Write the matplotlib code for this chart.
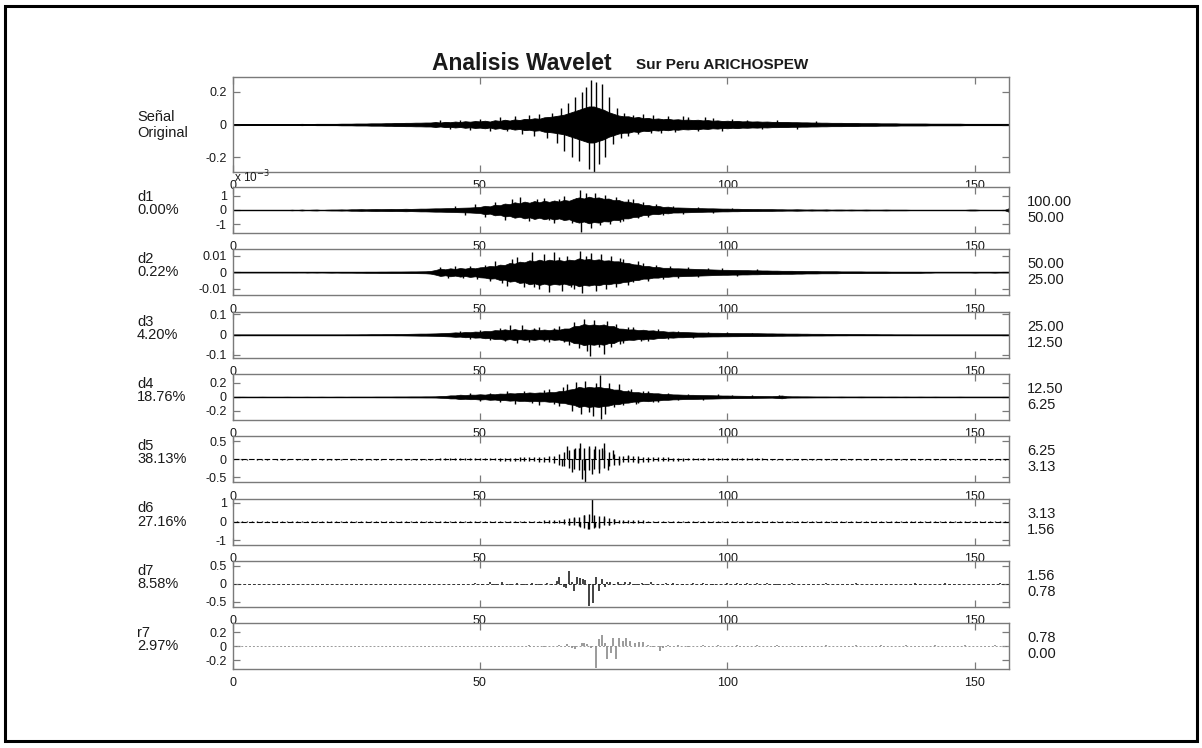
import numpy as np
import matplotlib
matplotlib.use("Agg")
import matplotlib.pyplot as plt
from matplotlib.patches import Rectangle

plt.rcParams['font.family'] = ['Liberation Sans', 'DejaVu Sans']

W, H = 1202, 748

# ---- data ----
# envelopes per second, t = 0..157 s
# Señal original, units of 0.01
env_sig = [0.2, 0.2, 0.2, 0.2, 0.3, 0.2, 0.2, 0.3, 0.2, 0.3,
           0.3, 0.3, 0.3, 0.3, 0.4, 0.3, 0.3, 0.4, 0.4, 0.4,
           0.4, 0.4, 0.5, 0.5, 0.5, 0.6, 0.6, 0.6, 0.7, 0.7,
           0.7, 0.8, 0.8, 0.9, 0.9, 1.0, 1.0, 1.1, 1.1, 1.2,
           1.2, 1.5, 1.2, 1.6, 1.4, 1.8, 1.5, 2.0, 1.7, 2.1,
           1.9, 2.3, 1.8, 2.6, 2.2, 2.9, 2.4, 3.1, 2.7, 3.4,
           3.2, 3.8, 3.5, 4.4, 4.6, 5.0, 5.5, 6.0, 7.0, 8.0,
           9.0, 10, 11, 11, 10, 9.0, 7.5, 6.5, 5.5, 5.0,
           5.0, 4.2, 4.6, 3.8, 4.0, 3.4, 3.7, 3.2, 3.5, 3.0,
           3.2, 2.8, 3.0, 2.7, 2.9, 2.5, 2.7, 2.3, 2.5, 2.1,
           2.3, 2.0, 2.2, 1.9, 2.0, 1.8, 1.9, 1.7, 1.8, 1.6,
           1.6, 1.5, 1.5, 1.4, 1.4, 1.3, 1.3, 1.2, 1.2, 1.1,
           1.1, 1.0, 1.0, 1.0, 0.9, 0.9, 0.9, 0.8, 0.8, 0.8,
           0.8, 0.7, 0.7, 0.7, 0.7, 0.6, 0.6, 0.6, 0.6, 0.6,
           0.6, 0.5, 0.5, 0.5, 0.5, 0.5, 0.5, 0.5, 0.4, 0.4,
           0.4, 0.4, 0.4, 0.4, 0.4, 0.4, 0.4, 0.4]
# (time s, value)
spk_sig = [(42, .025), (44, -.03), (46, .03), (48, -.035), (50, .035), (52, -.04),
           (54, .045), (55.5, -.04), (57, .05), (58.5, -.055), (60, .06), (61, -.07),
           (62, .065), (63.5, -.08), (64.5, .07), (65.5, -.11), (66.3, .10), (67, -.16),
           (67.8, .13), (68.5, -.20), (69.2, .17), (70, -.22), (70.7, .20), (71.4, .23),
           (72, -.27), (72.5, .27), (73, -.29), (73.5, .26), (74.1, -.24), (74.7, .25),
           (75.3, -.20), (76, .17), (76.8, -.12), (77.6, .10), (78.4, -.08), (79.2, .07),
           (80, -.07), (81, .06), (82, -.06), (83, .065), (84.5, -.05), (85, .055),
           (86.5, -.05), (88, .05), (89.5, -.045), (91, .05), (92, .045), (94, -.04),
           (95.5, .045), (97, .04), (99, -.04), (101, .035), (104, .03), (107, -.03),
           (110, .03), (114, -.025), (118, .02)]

# d1, units of 1e-3
env_d1 = [0, 0, 0, 0, 0, 0, 0, 0, 0, 0,
          0, 0, 0.02, 0, 0.03, 0, 0.02, 0.03, 0, 0.02,
          0.03, 0.03, 0.04, 0.03, 0.05, 0.05, 0.06, 0.05, 0.06, 0.07,
          0.06, 0.07, 0.08, 0.07, 0.08, 0.09, 0.08, 0.09, 0.10, 0.10,
          0.11, 0.12, 0.12, 0.13, 0.14, 0.15, 0.16, 0.17, 0.18, 0.20,
          0.22, 0.30, 0.26, 0.38, 0.34, 0.46, 0.42, 0.55, 0.48, 0.60,
          0.52, 0.64, 0.55, 0.66, 0.58, 0.68, 0.60, 0.72, 0.66, 0.80,
          0.90, 0.82, 0.95, 0.86, 0.90, 0.80, 0.82, 0.70, 0.72, 0.60,
          0.60, 0.50, 0.48, 0.36, 0.36, 0.28, 0.30, 0.22, 0.24, 0.18,
          0.18, 0.17, 0.16, 0.15, 0.14, 0.13, 0.12, 0.12, 0.11, 0.10,
          0.10, 0.09, 0.09, 0.08, 0.08, 0.07, 0.07, 0.06, 0.06, 0.06,
          0.05, 0.05, 0.04, 0.04, 0.05, 0.04, 0.03, 0.04, 0.03, 0.03,
          0.04, 0.02, 0.03, 0.03, 0.02, 0.03, 0.02, 0.02, 0.03, 0.02,
          0.02, 0.02, 0.03, 0.02, 0.02, 0.02, 0.02, 0.01, 0.01, 0.01,
          0.01, 0.01, 0.01, 0.01, 0.01, 0.01, 0.01, 0.01, 0.01, 0.03,
          0.03, 0.01, 0.01, 0.01, 0.01, 0.01, 0.01, 0.15]
spk_d1 = [(45, 0.3), (47, -0.35), (49, 0.4), (51, -0.5), (53, 0.6), (55, -0.7),
          (56.5, 0.75), (58, 0.9), (60, -0.8), (61.5, 0.75), (63, 0.85), (64, -0.7),
          (65, -0.9), (66, 0.8), (67, 1.0), (68.5, -0.9), (69.5, 0.85), (70.2, 1.45),
          (70.5, -1.6), (71.5, 1.2), (72.4, -1.25), (73.3, 1.2), (74.2, -1.1), (75.2, 1.05),
          (76.2, -1.0), (77.5, 0.95), (78.3, -0.85), (79, -0.8), (80, 0.8), (81, 0.75),
          (82, -0.6), (83, 0.55), (84, -0.5), (85.5, 0.4), (87, -0.35), (89, 0.3),
          (91, -0.25), (94, 0.2), (97, -0.18), (101, 0.15)]

# d2, units of 1e-3
env_d2 = [0, 0, 0, 0, 0, 0, 0, 0, 0, 0,
          0.1, 0, 0.1, 0.1, 0, 0.15, 0.1, 0.15, 0.1, 0.15,
          0.2, 0.15, 0.2, 0.2, 0.2, 0.25, 0.25, 0.3, 0.3, 0.3,
          0.35, 0.35, 0.4, 0.4, 0.4, 0.45, 0.5, 0.5, 0.55, 0.6,
          0.8, 1.4, 2.2, 1.8, 2.4, 2.0, 2.6, 2.2, 2.8, 2.4,
          3.0, 3.2, 3.8, 3.6, 4.6, 4.4, 5.6, 5.2, 6.4, 6.0,
          7.2, 6.6, 7.6, 6.8, 7.6, 7.0, 7.4, 6.8, 7.6, 7.2,
          8.4, 7.6, 8.0, 7.4, 7.8, 7.0, 7.2, 6.6, 6.6, 5.8,
          5.6, 4.8, 4.6, 3.8, 3.8, 3.2, 3.2, 2.7, 2.7, 2.4,
          2.4, 2.3, 2.2, 2.1, 2.0, 1.9, 1.8, 1.7, 1.6, 1.5,
          1.5, 1.4, 1.4, 1.3, 1.3, 1.2, 1.2, 1.1, 1.1, 1.0,
          1.0, 0.9, 0.9, 0.9, 0.8, 0.8, 0.7, 0.7, 0.7, 0.6,
          0.6, 0.6, 0.6, 0.5, 0.5, 0.5, 0.5, 0.5, 0.4, 0.4,
          0.4, 0.4, 0.4, 0.3, 0.3, 0.3, 0.3, 0.3, 0.3, 0.3,
          0.2, 0.2, 0.1, 0.1, 0.1, 0.1, 0.1, 0.1, 0.1, 0.1,
          0.2, 0.1, 0.1, 0.1, 0.2, 0.1, 0.1, 0.1]
spk_d2 = [(42, 3), (43.5, -3.2), (45, 3.5), (46.5, -3.5), (48, 4), (49.5, -4),
          (51, 4.5), (52, -5), (53, 7), (54.5, -6.5), (55.5, -8), (56.5, 8), (57.5, 9),
          (59, -9), (60.5, 12), (61, -9), (62, -10), (63, 11), (64, -12), (65, 12),
          (66, 9), (66.5, -11), (67.5, 10), (68.3, -9), (69, -10), (70.2, 12.5),
          (70.6, -12.5), (71.5, 10), (72.5, 11.5), (73.5, -11), (74.5, 11), (75.5, -10),
          (76.5, 9.5), (77.5, -9), (78.3, 8.5), (79, 8), (80, -7.5), (81, -6), (82, 6.5),
          (83, 5.5), (84, -5), (85.5, 4.5), (87, -4), (88.5, 3.8), (90, -3.5), (92, 3.2),
          (94, -3), (96, 2.8), (99, 2.4), (102, -2.2), (106, 2)]

# d3, units of 0.01
env_d3 = [0, 0, 0, 0, 0, 0, 0, 0, 0, 0,
          0, 0, 0, 0, 0, 0, 0, 0, 0, 0,
          0, 0, 0, 0.1, 0.1, 0.1, 0.15, 0.15, 0.2, 0.2,
          0.2, 0.25, 0.25, 0.3, 0.3, 0.35, 0.4, 0.45, 0.5, 0.5,
          0.55, 0.6, 0.7, 0.8, 0.9, 1.1, 1.0, 1.3, 1.2, 1.5,
          1.4, 1.8, 1.7, 2.2, 2.1, 2.6, 2.2, 2.7, 2.2, 2.6,
          2.3, 2.6, 2.2, 2.5, 2.2, 2.6, 2.4, 3.0, 3.0, 4.2,
          4.3, 5.2, 4.7, 5.0, 4.6, 5.0, 4.2, 4.2, 3.0, 2.9,
          2.5, 2.6, 2.2, 2.4, 2.0, 2.1, 1.7, 1.7, 1.4, 1.5,
          1.3, 1.3, 1.2, 1.1, 1.0, 1.0, 0.95, 0.9, 0.9, 0.85,
          0.85, 0.8, 0.8, 0.75, 0.75, 0.7, 0.7, 0.65, 0.6, 0.6,
          0.55, 0.55, 0.5, 0.5, 0.5, 0.45, 0.45, 0.4, 0.4, 0.4,
          0.35, 0.35, 0.3, 0.3, 0.3, 0.25, 0.25, 0.25, 0.2, 0.2,
          0.2, 0.15, 0.15, 0.15, 0.1, 0.1, 0.1, 0.1, 0, 0,
          0, 0, 0, 0, 0, 0, 0, 0, 0, 0,
          0, 0, 0, 0, 0, 0, 0, 0]
spk_d3 = [(46, 1.8), (48, -2), (50, 2.3), (52, -2.8), (54, 3.2), (55, -3.3), (56, 4.5),
          (57.5, -4), (58.5, 4.8), (60, -3.5), (61, 3.2), (62, 3.5), (63, -3), (64, -3.5),
          (65, 3.2), (66, 4), (67, -3.8), (68, -5), (69, 6), (70, -6.5), (71, 7.5),
          (71.7, -8), (72.3, -10.5), (73, 7), (74, -6), (75, -9.5), (75.6, 6.5),
          (76.5, -6), (77.5, 5), (78.3, -4.5), (79, -4), (80, 3.8), (81, 3.5),
          (82.5, -3.2), (84, -3), (86, 2.6), (88, -2.2), (90, 2), (93, -1.7), (96, 1.5),
          (100, 1.2), (105, 1.0)]

# d4, units of 0.01
env_d4 = [0.2, 0.2, 0.3, 0.2, 0.2, 0.2, 0.3, 0.2, 0.2, 0.2,
          0.2, 0.3, 0.2, 0.2, 0.2, 0.3, 0.2, 0.2, 0.3, 0.2,
          0.2, 0.3, 0.3, 0.2, 0.3, 0.3, 0.3, 0.3, 0.3, 0.4,
          0.4, 0.4, 0.4, 0.5, 0.5, 0.5, 0.6, 0.6, 0.6, 0.7,
          0.7, 0.8, 1.2, 1.4, 2.2, 2.2, 3.2, 2.7, 3.3, 3.2,
          3.8, 3.3, 4.2, 3.8, 4.8, 4.6, 5.4, 5.0, 5.8, 5.6,
          6.4, 5.8, 6.4, 6.2, 7.0, 6.8, 8.4, 8.6, 10.5, 11.5,
          14.5, 13, 14.5, 13.5, 14.5, 13, 12.5, 10.5, 10.5, 8.5,
          8.2, 6.8, 6.8, 5.6, 6.2, 5.2, 5.2, 4.2, 4.2, 3.6,
          3.5, 3.2, 3.0, 3.0, 2.8, 2.6, 2.5, 2.4, 2.2, 2.0,
          2.0, 1.8, 1.7, 1.6, 1.5, 1.4, 1.3, 1.2, 1.1, 1.0,
          1.5, 2.0, 1.0, 0.8, 0.8, 0.7, 0.7, 0.6, 0.5, 0.5,
          0.5, 0.4, 0.4, 0.5, 0.4, 0.4, 0.4, 0.5, 0.4, 0.4,
          0.4, 0.4, 0.3, 0.4, 0.4, 0.3, 0.4, 0.3, 0.3, 0.4,
          0.3, 0.3, 0.4, 0.3, 0.3, 0.3, 0.3, 0.4, 0.3, 0.3,
          0.3, 0.3, 0.3, 0.3, 0.3, 0.3, 0.3, 0.3]
spk_d4 = [(48, 5), (50, -6), (52, 6), (54, -7), (55.5, 8), (57, -10), (59, 9),
          (60.5, -9), (62, -12), (63, 10), (64, 12), (65, -10), (66, -13), (66.8, 14),
          (67.5, 18), (68.5, -20), (69.5, 22), (70.5, -24), (71.2, 23), (72, -22),
          (72.8, -27), (73.5, 20), (74.2, 32), (74.4, -32), (75.2, -24), (76, 20),
          (77, -15), (78, 19), (79, -12), (80, 10), (80.5, 11), (81.5, -10), (82, -9),
          (83, 8.5), (84, 8), (85, -7.5), (86, -7), (88, 6), (90, -5), (92, 4.5),
          (95, -4), (98, 3.5), (101, 3), (105, 2.5), (110.5, 3)]

# d5, units of 0.01
env_d5 = [1.0, 0.8, 1.0, 1.0, 0.8, 1.0, 1.0, 1.0, 0.8, 1.0,
          1.0, 1.0, 0.8, 1.0, 1.0, 1.0, 1.0, 0.8, 1.0, 1.0,
          1.0, 1.0, 1.0, 0.8, 1.0, 1.0, 1.0, 1.0, 1.0, 1.0,
          1.0, 0.8, 1.0, 1.0, 1.0, 1.0, 1.2, 1.2, 1.2, 1.2,
          1.2, 1.5, 2.0, 2.0, 2.0, 2.5, 2.5, 2.5, 3.0, 3.0,
          3.0, 3.0, 3.0, 3.5, 4.0, 4.0, 4.5, 4.5, 5.0, 5.0,
          5.5, 6.0, 7.0, 7.0, 8.0, 10, 15, 20, 25, 28,
          30, 30, 30, 28, 28, 25, 20, 15, 10, 9,
          9, 8, 8, 7, 7, 6, 6, 5, 5, 4.5,
          4, 4, 3.5, 3.5, 3, 3, 3, 3, 2.5, 2.5,
          2.5, 2.5, 2.5, 2, 2, 2, 2, 2, 1.5, 1.5,
          1.5, 1.5, 1.5, 1.5, 1.5, 1.5, 1.5, 1.5, 1.5, 1.5,
          1.5, 1.5, 1.5, 1.5, 1.5, 1.5, 1.5, 1.5, 1.5, 1.5,
          1.5, 1.5, 1.5, 1.5, 1.5, 1.5, 1.5, 1.5, 1.5, 1.5,
          1.5, 1.5, 1.5, 1.5, 1.5, 1.5, 1.5, 1.5, 1.5, 1.5,
          1.5, 1.5, 1.5, 1.5, 1.5, 1.5, 1.5, 1.5]
spk_d5 = [(66.5, -20), (67.5, 37), (68.5, -35), (69.3, 30), (70.2, 46), (70.6, -56),
          (71.2, -64), (72, 38), (72.6, -40), (73.3, 36), (74, -38), (74.6, 30),
          (75.1, 46), (75.8, -30), (76.8, 25), (78, -15), (80, 12), (82, -10)]

# d6, units of 0.01
env_d6 = [2, 2, 2, 2, 2, 2, 2, 2, 2, 2,
          2, 2, 2, 2, 2, 2, 2, 2, 2, 2,
          2, 2, 2, 2, 2, 2, 2, 2, 2, 2,
          2, 2, 2, 2, 2, 2, 2, 2, 2, 2,
          2, 2, 2, 2, 2, 2, 2, 2, 2, 2,
          2, 2, 2, 2, 3, 3, 4, 4, 4, 5,
          5, 5, 5, 6, 6, 7, 8, 15, 17, 18,
          25, 35, 40, 35, 30, 20, 18, 12, 9, 8,
          7, 7, 6, 6, 5, 5, 5, 4, 4, 4,
          3, 3, 3, 3, 3, 3, 3, 3, 3, 3,
          3, 3, 3, 3, 3, 3, 3, 3, 3, 3,
          3, 3, 3, 3, 3, 3, 3, 3, 3, 3,
          3, 3, 3, 3, 3, 3, 3, 3, 3, 3,
          3, 3, 3, 3, 3, 3, 3, 3, 3, 3,
          3, 3, 3, 3, 3, 3, 3, 3, 3, 3,
          3, 3, 3, 3, 3, 3, 3, 3]
spk_d6 = [(68, -20), (69, 22), (70.3, -30), (71, 35), (71.8, -40), (72.6, 117),
          (73.3, -30), (74, -35), (75, 28), (76, -20), (77, 15)]

# d7 and r7 coefficients (time s, value in units of 0.01)
bar_d7 = [(49, 3), (50.5, -2), (52, 4), (53, -3), (54.5, 5), (56, -4), (57.5, 3), (59, -2),
          (60.5, 2), (62, -2), (63.5, 3), (64.5, -3), (65.5, 8), (66, 19), (66.9, -9),
          (67.3, -12), (67.9, 37), (68.5, 5), (69, -19), (69.7, 18), (70.2, 15), (70.8, 12),
          (71.3, 10), (72.1, -62), (72.8, -54), (73.4, 20), (74, -19), (74.6, 12),
          (75.2, -8), (75.6, 6), (76.3, 5), (77, -4), (77.8, 6), (78.5, -3), (79.3, 4),
          (80.4, 5), (81.5, -3), (82.7, 3), (83.5, -4), (84.5, 4), (86, -2), (87.5, 3),
          (89, 2), (91, -3), (93, 2), (95, 3), (97, -2), (100, 2), (102, 3), (104, 2),
          (106, 3), (108, 2), (110, -2), (113, 2), (117, -1), (120, 2), (126, 2),
          (132, -1), (138, 2), (144, 2), (150, -1), (155, 2)]
bar_r7 = [(60, 1), (63, -1), (66, 2), (67.5, 3), (68.5, -3), (69.3, -4), (70.6, 4),
          (71.1, 4), (71.6, 3), (72.5, -3), (73.4, -32), (74.1, 10), (74.6, 16), (75.2, 5),
          (75.7, -19), (76.4, -10), (76.9, 12), (77.4, -19), (78, 12), (78.9, 8),
          (79.6, 11), (80.4, 7), (81.3, 5), (82.1, 6), (82.9, 6), (84, 2), (85, -2),
          (86.3, -7), (87, -3), (88, 2), (90, 2), (92, -2), (95, 2), (98, 2), (102, 2),
          (106, 2), (110, 2), (115, -2), (120, 2), (126, 2), (131, 2), (136, 2), (142, 2),
          (148, 2), (154, 2)]

names = ['d1', 'd2', 'd3', 'd4', 'd5', 'd6', 'd7', 'r7']
pcts = ['0.00%', '0.22%', '4.20%', '18.76%', '38.13%', '27.16%', '8.58%', '2.97%']
bands = [('100.00', '50.00'), ('50.00', '25.00'), ('25.00', '12.50'), ('12.50', '6.25'),
         ('6.25', '3.13'), ('3.13', '1.56'), ('1.56', '0.78'), ('0.78', '0.00')]
ylims = [1.64, 0.0138, 0.113, 0.33, 0.64, 1.22, 0.64, 0.33]
yticks = [[-1, 0, 1], [-0.01, 0, 0.01], [-0.1, 0, 0.1], [-0.2, 0, 0.2],
          [-0.5, 0, 0.5], [-1, 0, 1], [-0.5, 0, 0.5], [-0.2, 0, 0.2]]
xticks = [0, 50, 100, 150]
xmax = 157

# ---- figure ----
fig = plt.figure(figsize=(W / 100, H / 100), dpi=100)
fig.patches.append(Rectangle((5 / W, 1 - 741 / H), 1192 / W, 735 / H, transform=fig.transFigure,
                             fill=False, lw=2.2, ec='black'))

L, R = 232.5, 1009.5
spine_c = '#7a7a7a'
txt_c = '#1a1a1a'
lab_fs = 10.5


def make_ax(top, h):
    ax = fig.add_axes([L / W, 1 - (top + h) / H, (R - L) / W, h / H])
    for s in ax.spines.values():
        s.set_color(spine_c)
        s.set_linewidth(1.0)
    ax.set_xlim(0, xmax)
    ax.set_xticks(xticks)
    ax.tick_params(direction='in', length=5, width=0.9, color=spine_c, labelsize=9,
                   labelcolor=txt_c, top=True, right=True)
    ax.tick_params(axis='x', pad=6)
    ax.tick_params(axis='y', pad=4)
    return ax


def fmt(v):
    if v == 0:
        return '0'
    return ('%g' % v)


def draw_spikes(ax, pairs, scale, color='black', lw=1.0):
    ts = [p[0] for p in pairs]
    vs = [p[1] * scale for p in pairs]
    ax.vlines(ts, 0, vs, color=color, lw=lw)


# original signal
ax0 = make_ax(77, 95)
t = np.arange(len(env_sig))
e = np.array(env_sig) * 0.01
ax0.axhline(0, color='black', lw=1.3)
ax0.fill_between(t, -e, e, color='black', lw=0.6)
draw_spikes(ax0, spk_sig, 1.0)
ax0.set_ylim(-0.29, 0.29)
ax0.set_yticks([-0.2, 0, 0.2])
ax0.set_yticklabels(['-0.2', '0', '0.2'])
fig.text(137 / W, 1 - 117 / H, 'Señal', fontsize=lab_fs, color=txt_c, va='center', ha='left')
fig.text(137 / W, 1 - 133 / H, 'Original', fontsize=lab_fs, color=txt_c, va='center', ha='left')

envs = [env_d1, env_d2, env_d3, env_d4, env_d5, env_d6]
scales = [1, 0.001, 0.01, 0.01, 0.01, 0.01]
spks = [spk_d1, spk_d2, spk_d3, spk_d4, spk_d5, spk_d6]

for i in range(8):
    top = 187 + i * 62.3
    ax = make_ax(top, 46)
    yl = ylims[i]
    ax.set_ylim(-yl, yl)
    ax.set_yticks(yticks[i])
    ax.set_yticklabels([fmt(v) for v in yticks[i]])
    if i < 4:
        e = np.array(envs[i]) * scales[i]
        t = np.arange(len(e))
        ax.axhline(0, color='black', lw=1.0)
        ax.fill_between(t, -e, e, color='black', lw=0.5)
        draw_spikes(ax, spks[i], scales[i])
    elif i < 6:
        e = np.array(envs[i]) * scales[i]
        t = np.arange(len(e))
        ax.axhline(0, color='black', lw=0.8, ls=(0, (5, 2)))
        ax.vlines(t, -e, e, color='black', lw=1.0)
        draw_spikes(ax, spks[i], scales[i])
    elif i == 6:
        ax.axhline(0, color='#333333', lw=0.7, ls=(0, (3, 2)))
        draw_spikes(ax, bar_d7, 0.01, color='#222222', lw=1.2)
    else:
        ax.axhline(0, color='#9a9a9a', lw=0.7, ls=(0, (2, 2)))
        draw_spikes(ax, bar_r7, 0.01, color='#8a8a8a', lw=1.2)
    cy = top + 23
    fig.text(137 / W, 1 - (cy - 13) / H, names[i], fontsize=lab_fs, color=txt_c, va='center', ha='left')
    fig.text(137 / W, 1 - cy / H, pcts[i], fontsize=lab_fs, color=txt_c, va='center', ha='left')
    fig.text(1027 / W, 1 - (cy - 8) / H, bands[i][0], fontsize=lab_fs, color=txt_c, va='center', ha='left')
    fig.text(1027 / W, 1 - (cy + 8) / H, bands[i][1], fontsize=lab_fs, color=txt_c, va='center', ha='left')
    if i == 0:
        ax.text(0.002, 1.03, r'x 10$^{-3}$', transform=ax.transAxes, fontsize=8.5, color=txt_c,
                ha='left', va='bottom')

fig.text(522 / W, 1 - 63 / H, 'Analisis Wavelet', fontsize=16.5, fontweight='bold',
         color=txt_c, ha='center', va='center')
fig.text(636 / W, 1 - 65 / H, 'Sur Peru ARICHOSPEW', fontsize=11, fontweight='bold',
         color=txt_c, ha='left', va='center')

fig.savefig('out.png', dpi=100)
